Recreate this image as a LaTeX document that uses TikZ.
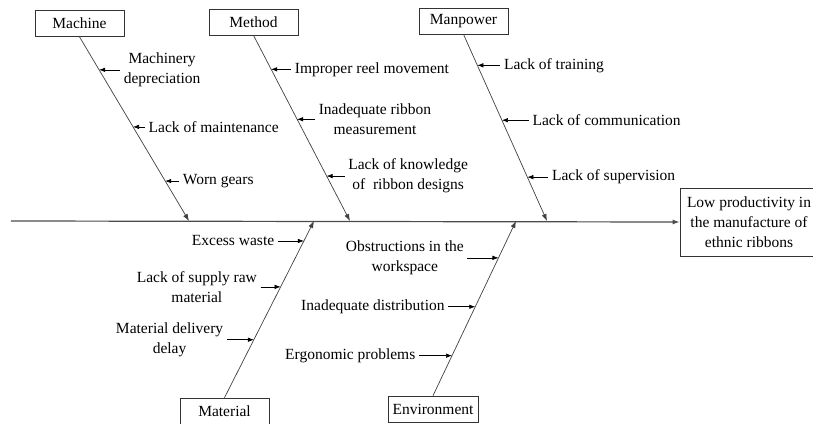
\documentclass[tikz,border=0pt]{standalone}
\usepackage{fontspec}
\setmainfont{Liberation Serif}
\usetikzlibrary{positioning,calc,arrows.meta}

\begin{document}
\begin{tikzpicture}[x=1pt,y=-1pt,
  box/.style={draw=black!80, line width=0.7pt, minimum width=89pt, minimum height=26pt, inner sep=2pt, font=\fontsize{15.5}{20}\selectfont},
  cause/.style={align=center, inner sep=3.5pt, font=\fontsize{15.5}{20}\selectfont},
  bone/.style={draw=black!75, line width=0.7pt, -{Latex[length=7pt,width=5pt]}},
  twig/.style={draw=black, line width=0.6pt, -{Latex[length=6pt,width=4.5pt]}}]

\useasboundingbox (0,0) rectangle (813,423);

% categories and effect
\node[box] (machine) at (79.5,23.5) {Machine};
\node[box] (method) at (253.5,22) {Method};
\node[box] (manpower) at (463.5,21) {Manpower};
\node[box, minimum height=27pt] (material) at (224.5,411.5) {Material};
\node[box, minimum width=90pt] (environment) at (433,409) {Environment};
\node[box, minimum width=138pt, minimum height=68pt, align=center] (effect) at (749,222)
  {Low productivity in\\the manufacture of\\ethnic ribbons};

% spine
\coordinate (start) at (11,221);
\draw[draw=black!70, line width=1.2pt, -{Latex[length=7pt,width=5pt]}] (start) -- (effect.west);

\coordinate (machtip) at (189,221);
\coordinate (methtip) at (350,221);
\coordinate (mantip) at (547,221);
\coordinate (mattip) at (314,221);
\coordinate (envtip) at (516,221);

\draw[bone] (machine.south) -- (machtip);
\draw[bone] (method.south) -- (methtip);
\draw[bone] (manpower.south) -- (mantip);
\draw[bone] (material.north) -- (mattip);
\draw[bone] (environment.north) -- (envtip);

% machine
\coordinate (ma1) at ($(machine.south)!0.179!(machtip)$);
\coordinate (ma2) at ($(machine.south)!0.489!(machtip)$);
\coordinate (ma3) at ($(machine.south)!0.783!(machtip)$);
\node[cause, right=21pt of ma1] (dep) {Machinery\\depreciation};
\node[cause, right=12pt of ma2] (mnt) {Lack of maintenance};
\node[cause, right=14pt of ma3] (gear) {Worn gears};
\draw[twig] (dep.west) -- (ma1);
\draw[twig] (mnt.west) -- (ma2);
\draw[twig] (gear.west) -- (ma3);

% method
\coordinate (me1) at ($(method.south)!0.183!(methtip)$);
\coordinate (me2) at ($(method.south)!0.452!(methtip)$);
\coordinate (me3) at ($(method.south)!0.758!(methtip)$);
\node[cause, right=20pt of me1] (reel) {Improper reel movement};
\node[cause, right=18pt of me2] (meas) {Inadequate ribbon\\measurement};
\node[cause, right=18pt of me3] (know) {Lack of knowledge\\of\ \ ribbon designs};
\draw[twig] (reel.west) -- (me1);
\draw[twig] (meas.west) -- (me2);
\draw[twig] (know.west) -- (me3);

% manpower
\coordinate (mp1) at ($(manpower.south)!0.166!(mantip)$);
\coordinate (mp2) at ($(manpower.south)!0.46!(mantip)$);
\coordinate (mp3) at ($(manpower.south)!0.765!(mantip)$);
\node[cause, right=23pt of mp1] (train) {Lack of training};
\node[cause, right=27pt of mp2] (comm) {Lack of communication};
\node[cause, right=21pt of mp3] (sup) {Lack of supervision};
\draw[twig] (train.west) -- (mp1);
\draw[twig] (comm.west) -- (mp2);
\draw[twig] (sup.west) -- (mp3);

% material
\coordinate (mt1) at ($(material.north)!0.887!(mattip)$);
\coordinate (mt2) at ($(material.north)!0.627!(mattip)$);
\coordinate (mt3) at ($(material.north)!0.328!(mattip)$);
\node[cause, left=26pt of mt1] (waste) {Excess waste};
\node[cause, left=20pt of mt2] (raw) {Lack of supply raw\\material};
\node[cause, left=27pt of mt3] (deliv) {Material delivery\\delay};
\draw[twig] (waste.east) -- (mt1);
\draw[twig] (raw.east) -- (mt2);
\draw[twig] (deliv.east) -- (mt3);

% environment
\coordinate (en1) at ($(environment.north)!0.789!(envtip)$);
\coordinate (en2) at ($(environment.north)!0.509!(envtip)$);
\coordinate (en3) at ($(environment.north)!0.229!(envtip)$);
\node[cause, left=31pt of en1] (obst) {Obstructions in the\\workspace};
\node[cause, left=27pt of en2] (dist) {Inadequate distribution};
\node[cause, left=33pt of en3] (ergo) {Ergonomic problems};
\draw[twig] (obst.east) -- (en1);
\draw[twig] (dist.east) -- (en2);
\draw[twig] (ergo.east) -- (en3);

\end{tikzpicture}
\end{document}
